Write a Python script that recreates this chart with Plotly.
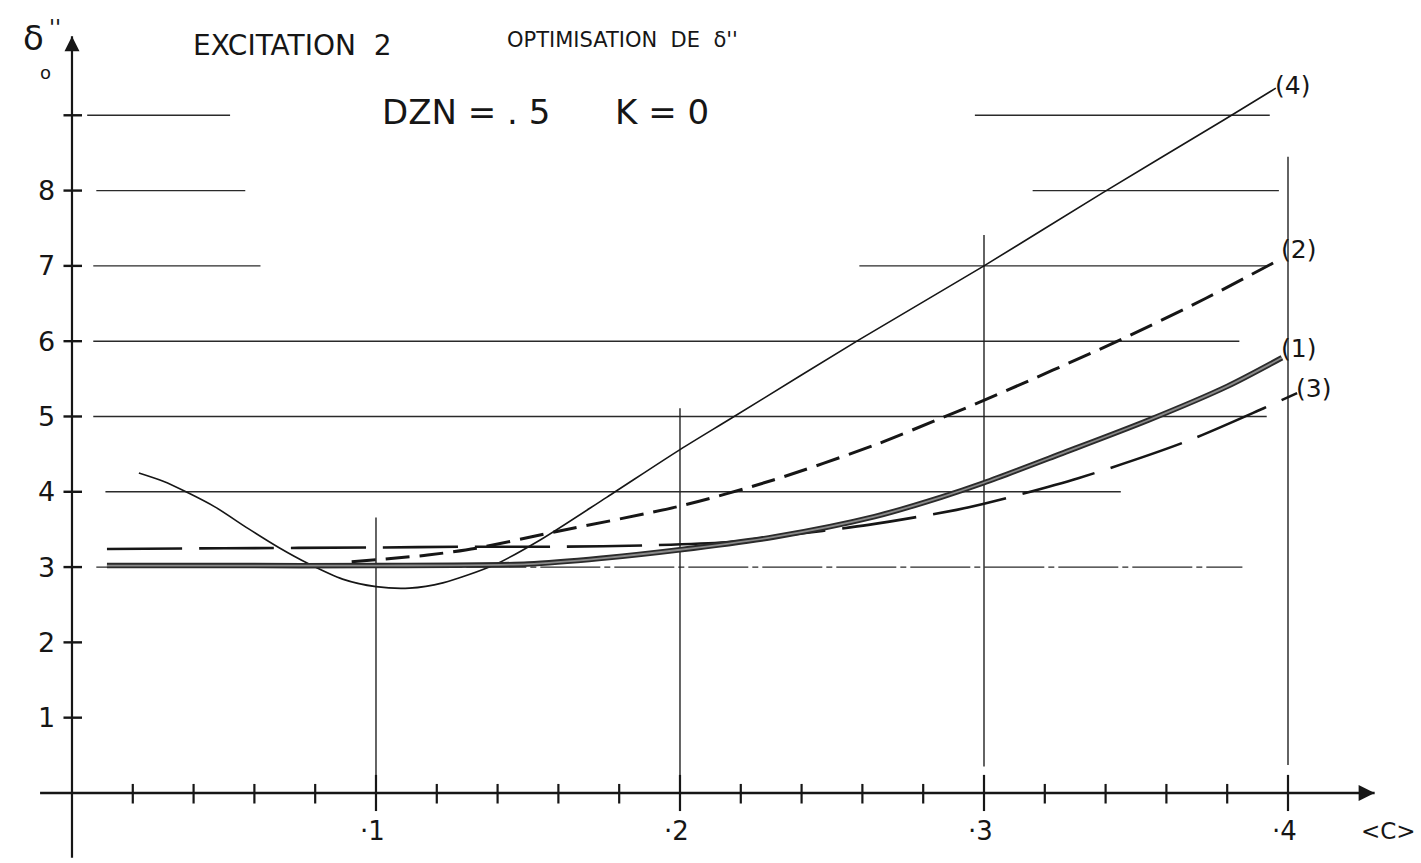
import plotly.graph_objects as go

# ---- data ---------------------------------------------------------------
# abscissa <C>, ordinate delta''_0
c1_x = [0.0115, 0.05, 0.10, 0.15, 0.175, 0.20, 0.231, 0.264, 0.286, 0.30, 0.325, 0.354, 0.38, 0.398]
c1_y = [3.02, 3.02, 3.02, 3.04, 3.12, 3.23, 3.40, 3.67, 3.93, 4.12, 4.50, 4.95, 5.40, 5.78]

c2_x = [0.092, 0.117, 0.133, 0.158, 0.201, 0.231, 0.264, 0.286, 0.298, 0.345, 0.373, 0.398]
c2_y = [3.07, 3.16, 3.25, 3.46, 3.82, 4.16, 4.62, 4.98, 5.18, 6.02, 6.57, 7.10]

c3_x = [0.0115, 0.05, 0.10, 0.13, 0.16, 0.19, 0.215, 0.23, 0.262, 0.291, 0.30, 0.331, 0.366, 0.392, 0.403]
c3_y = [3.24, 3.25, 3.26, 3.27, 3.27, 3.29, 3.33, 3.40, 3.56, 3.76, 3.84, 4.18, 4.66, 5.11, 5.31]

c4_x = [0.022, 0.030, 0.038, 0.047, 0.058, 0.068, 0.078, 0.089, 0.100, 0.111, 0.122, 0.139,
        0.154, 0.176, 0.200, 0.217, 0.259, 0.300, 0.339, 0.379, 0.396]
c4_y = [4.25, 4.14, 3.99, 3.80, 3.51, 3.26, 3.04, 2.84, 2.74, 2.72, 2.79, 3.03,
        3.36, 3.93, 4.56, 4.98, 6.02, 7.00, 7.97, 8.94, 9.36]

curve_names = ["(1)", "(2)", "(3)", "(4)"]

# hand-drawn guide lines: level, start, end
guide_y = [9, 9, 8, 8, 7, 7, 6, 5, 4, 3]
guide_x0 = [0.005, 0.297, 0.008, 0.316, 0.007, 0.259, 0.007, 0.007, 0.011, 0.008]
guide_x1 = [0.052, 0.394, 0.057, 0.397, 0.062, 0.393, 0.384, 0.393, 0.345, 0.385]

# vertical guides at the main graduations: position, top, bottom
vguide_x = [0.1, 0.2, 0.3, 0.4]
vguide_top = [3.66, 5.11, 7.41, 8.45]
vguide_bot = [0.0, 0.0, 0.35, 0.37]

x_minor = [0.02, 0.04, 0.06, 0.08, 0.12, 0.14, 0.16, 0.18, 0.22, 0.24, 0.26, 0.28,
           0.32, 0.34, 0.36, 0.38]
x_major = [0.1, 0.2, 0.3, 0.4]
x_major_labels = ["·1", "·2", "·3", "·4"]
y_ticks = [1, 2, 3, 4, 5, 6, 7, 8, 9]
y_tick_labels = ["1", "2", "3", "4", "5", "6", "7", "8", ""]

# axis extents
x_axis_span = [-0.0105, 0.4285]
y_axis_span = [-0.86, 10.05]

INK = "#161616"
FONT = "DejaVu Sans"


def segments(xs0, ys0, xs1, ys1):
    px, py = [], []
    for a, b, c, d in zip(xs0, ys0, xs1, ys1):
        px += [a, c, None]
        py += [b, d, None]
    return px, py


fig = go.Figure()

# guide lines
for lvl, a, b in zip(guide_y, guide_x0, guide_x1):
    dash = "60px,4px,6px,4px" if lvl == 3 else "solid"
    fig.add_trace(go.Scatter(x=[a, b], y=[lvl, lvl], mode="lines",
                             line=dict(color="#2a2a2a", width=1.4, dash=dash),
                             hoverinfo="skip", showlegend=False))

vx, vy = segments(vguide_x, vguide_top, vguide_x, vguide_bot)
fig.add_trace(go.Scatter(x=vx, y=vy, mode="lines",
                         line=dict(color="#222", width=1.4),
                         hoverinfo="skip", showlegend=False))

# axes
fig.add_trace(go.Scatter(x=x_axis_span, y=[0, 0], mode="lines",
                         line=dict(color=INK, width=2.4), hoverinfo="skip", showlegend=False))
fig.add_trace(go.Scatter(x=[0, 0], y=y_axis_span, mode="lines",
                         line=dict(color=INK, width=2.2), hoverinfo="skip", showlegend=False))
fig.add_trace(go.Scatter(x=[x_axis_span[1]], y=[0], mode="markers",
                         marker=dict(symbol="arrow-right", size=16, color=INK,
                                     line=dict(width=0)),
                         hoverinfo="skip", showlegend=False))
fig.add_trace(go.Scatter(x=[0], y=[y_axis_span[1]], mode="markers",
                         marker=dict(symbol="arrow-up", size=15, color=INK,
                                     line=dict(width=0)),
                         hoverinfo="skip", showlegend=False))

# graduations on the axes
tx, ty = segments(x_minor, [0.12] * len(x_minor), x_minor, [-0.14] * len(x_minor))
fig.add_trace(go.Scatter(x=tx, y=ty, mode="lines", line=dict(color=INK, width=2.2),
                         hoverinfo="skip", showlegend=False))
tx, ty = segments(x_major, [0.24] * len(x_major), x_major, [-0.24] * len(x_major))
fig.add_trace(go.Scatter(x=tx, y=ty, mode="lines", line=dict(color=INK, width=2.2),
                         hoverinfo="skip", showlegend=False))
tx, ty = segments([-0.0028] * len(y_ticks), y_ticks, [0.0033] * len(y_ticks), y_ticks)
fig.add_trace(go.Scatter(x=tx, y=ty, mode="lines", line=dict(color=INK, width=2.4),
                         hoverinfo="skip", showlegend=False))

# curves
fig.add_trace(go.Scatter(x=c4_x, y=c4_y, mode="lines", name=curve_names[3],
                         line=dict(color=INK, width=1.6, shape="spline", smoothing=0.8)))
fig.add_trace(go.Scatter(x=c2_x, y=c2_y, mode="lines", name=curve_names[1],
                         line=dict(color=INK, width=3, dash="24px,10px",
                                   shape="spline", smoothing=0.8)))
fig.add_trace(go.Scatter(x=c3_x, y=c3_y, mode="lines", name=curve_names[2],
                         line=dict(color=INK, width=2.6, dash="75px,17px",
                                   shape="spline", smoothing=0.8)))
fig.add_trace(go.Scatter(x=c1_x, y=c1_y, mode="lines", name=curve_names[0],
                         line=dict(color="#2b2b2b", width=5.5, shape="spline", smoothing=0.8)))
fig.add_trace(go.Scatter(x=c1_x, y=c1_y, mode="lines", showlegend=False, hoverinfo="skip",
                         line=dict(color="#8a8a8a", width=1.8, shape="spline", smoothing=0.8)))

annotations = []
for v, lab in zip(y_ticks, y_tick_labels):
    if lab:
        annotations.append(dict(x=-0.0085, y=v, xref="x", yref="y", text=lab, showarrow=False,
                                font=dict(family=FONT, size=27, color=INK)))
for v, lab in zip(x_major, x_major_labels):
    annotations.append(dict(x=v - 0.001, y=-0.5, xref="x", yref="y", text=lab, showarrow=False,
                            font=dict(family=FONT, size=26, color=INK)))
annotations.append(dict(x=0.4330, y=-0.5, xref="x", yref="y", text="&lt;C&gt;", showarrow=False,
                        font=dict(family=FONT, size=23, color=INK)))

# curve labels at the end of each curve
ends = [(c1_x[-1], c1_y[-1] + 0.12), (c2_x[-1], c2_y[-1] + 0.12),
        (c3_x[-1], c3_y[-1] + 0.06), (c4_x[-1], c4_y[-1] + 0.04)]
for name, (ex, ey) in zip(curve_names, ends):
    annotations.append(dict(x=ex, y=ey, xref="x", yref="y", text=name, showarrow=False,
                            xanchor="left", xshift=-3,
                            font=dict(family=FONT, size=25, color=INK)))


def page_text(txt, cx, cy, size):
    return dict(x=cx / 1421, y=1 - cy / 863, xref="paper", yref="paper",
                xanchor="center", yanchor="middle", text=txt, showarrow=False,
                font=dict(family=FONT, size=size, color=INK))


# titles
annotations.append(page_text("δ", 33, 38, 34))
annotations.append(page_text("''", 55, 28, 22))
annotations.append(page_text("o", 45, 72, 18))
annotations.append(page_text("EXCITATION  2", 292, 45, 28))
annotations.append(page_text("OPTIMISATION  DE  δ''", 622, 40, 21))
annotations.append(page_text("DZN = . 5      K = 0", 545, 112, 34))

fig.update_layout(
    width=1421, height=863,
    margin=dict(l=0, r=0, t=0, b=0),
    paper_bgcolor="white", plot_bgcolor="white",
    showlegend=False,
    xaxis=dict(range=[-0.02368, 0.44375], visible=False, fixedrange=True),
    yaxis=dict(range=[-0.930, 10.531], visible=False, fixedrange=True),
    annotations=annotations,
)

fig.write_html("out.html")
